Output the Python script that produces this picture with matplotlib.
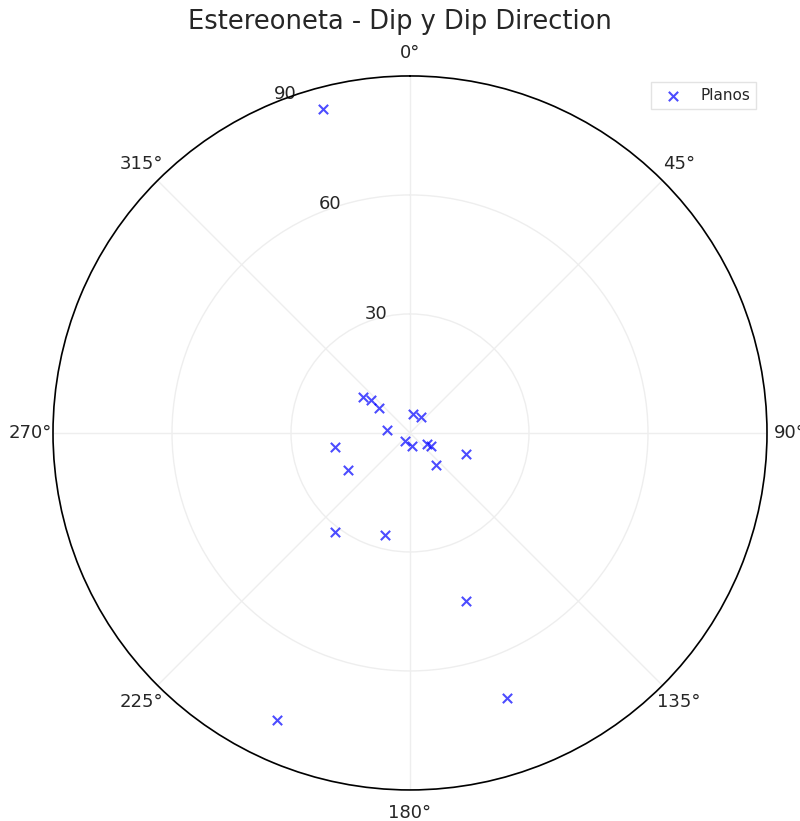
import numpy as np
import matplotlib
matplotlib.use("Agg")
import matplotlib.pyplot as plt

# Dip direction (degrees) and dip (degrees) of the planes
dip_direction = [345, 307.5, 310, 309, 9, 34.5, 277, 212, 171, 123, 121.8,
                 141, 110.6, 259.4, 239.2, 217.1, 193.8, 161.6, 159.9, 204.9]
dip = [84.6, 14.9, 12.9, 10.0, 4.8, 4.9, 5.8, 2.4, 3.3, 5.1, 6.2,
       10.4, 15.1, 19.2, 18.2, 31.3, 26.5, 44.6, 71.1, 79.7]
r_ticks = [30, 60, 90]
theta_ticks = [0, 45, 90, 135, 180, 225, 270, 315]
theta_labels = ["0°", "45°", "90°", "135°", "180°", "225°", "270°", "315°"]

plt.rcParams['font.family'] = ['DejaVu Sans']
fig = plt.figure(figsize=(8, 8.21), dpi=100)
ax = fig.add_axes([0.06625, 0.0378, 0.8925, 0.8697], projection='polar')
ax.set_theta_zero_location('N')
ax.set_theta_direction(-1)

ax.scatter(np.deg2rad(dip_direction), dip, marker='x', color='blue',
           alpha=0.7, s=45, linewidths=1.5, label='Planos', zorder=3)

ax.set_ylim(0, 90)
ax.set_yticks(r_ticks)
ax.set_yticklabels([str(v) for v in r_ticks], fontsize=13, color='#262626')
ax.set_rlabel_position(-22.5)
ax.set_xticks(np.deg2rad(theta_ticks))
ax.set_xticklabels(theta_labels, fontsize=13, color='#262626')
ax.tick_params(axis='x', pad=6)
ax.grid(True, color='#eeeeee', linewidth=1.0)
ax.spines['polar'].set_color('black')
ax.spines['polar'].set_linewidth(1.2)

fig.suptitle('Estereoneta - Dip y Dip Direction', fontsize=18.5, color='#262626',
             y=0.973, va='center')
fig.legend(loc='upper right', bbox_to_anchor=(0.955, 0.91), fontsize=11,
           frameon=True, fancybox=False, edgecolor='#dddddd', labelcolor='#262626')

fig.savefig('out.png', dpi=100)
